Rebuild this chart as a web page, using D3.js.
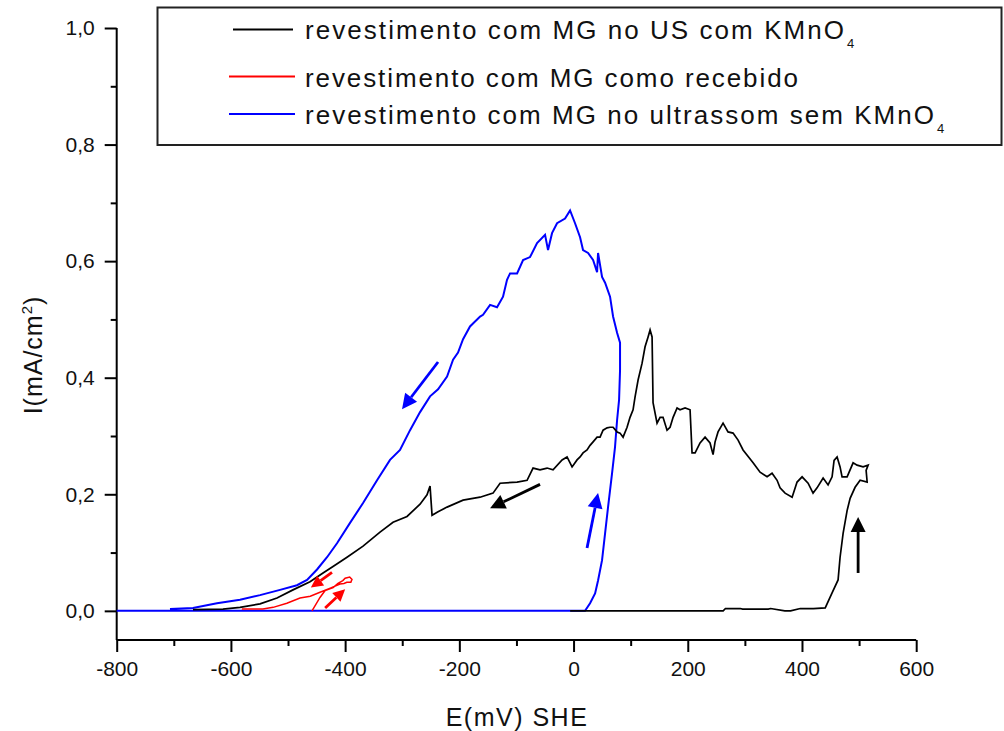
<!DOCTYPE html>
<html>
<head>
<meta charset="utf-8">
<script src="https://cdn.jsdelivr.net/npm/d3@7"></script>
<style>
  html, body { margin: 0; padding: 0; background: #fff; }
  svg { display: block; font-family: "Liberation Sans", Arial, sans-serif; }
</style>
</head>
<body>
<svg id="chart" width="1004" height="731"></svg>
<script>
// Polarization scans: potential E (mV vs SHE) and current density I (mA/cm²)

const xTicks = [-800, -600, -400, -200, 0, 200, 400, 600];
const xMinor = [-700, -500, -300, -100, 100, 300, 500];
const yTicks = [0, 0.2, 0.4, 0.6, 0.8, 1.0];
const yMinor = [0.1, 0.3, 0.5, 0.7, 0.9];
const fmtComma = d => d3.format(".1f")(d).replace(".", ",");
const fmtPlain = d => String(d);

// Coating sonicated without KMnO4 (forward then reverse)
const blueE = [-800, 20.1, 28.9, 37.7, 42.9, 49.9, 55.2, 60.4, 67.4, 72.6, 76.2, 79.7, 81.4, 81.4, 76.2, 69.2, 63.9, 55.2, 49.9, 42.9, 41.2, 34.2, 25.4, 16.6, 11.4, 2.6, -6.1,
  -14.9, -28.9, -37.7, -44.7, -49.9, -63.9, -76.2, -88.4, -98.9, -111.2, -116.5, -123.5, -134.0, -146.2, -158.5, -163.7, -181.3, -193.5, -202.3, -211.0, -221.5, -237.3, -251.3, -268.8, -286.3, -303.9, -321.4, -344.1, -368.6, -391.4, -414.2, -431.7, -449.2, -466.7, -484.3, -514.0, -549.0, -584.1, -624.4, -666.4, -706.7];
const blueI = [0, 0, 0.013, 0.030, 0.052, 0.087, 0.133, 0.178, 0.236, 0.281, 0.327, 0.362, 0.413, 0.460, 0.477, 0.505, 0.539, 0.563, 0.573, 0.614, 0.581, 0.602, 0.614, 0.619, 0.641, 0.665, 0.687,
  0.673, 0.665, 0.648, 0.619, 0.645, 0.631, 0.607, 0.602, 0.579, 0.579, 0.568, 0.539, 0.521, 0.525, 0.508, 0.505, 0.488, 0.466, 0.443, 0.431, 0.402, 0.380, 0.368, 0.341, 0.310, 0.276, 0.259, 0.224, 0.185, 0.151, 0.116, 0.092, 0.071, 0.053, 0.044, 0.036, 0.027, 0.019, 0.013, 0.005, 0.003];

// Coating sonicated with KMnO4 (forward then reverse)
const blackE = [-6, 262, 266, 292, 296, 341, 345, 370, 380, 397, 420, 440.7, 452.7, 463.2, 466.7, 472.0, 479.0, 484.3, 493.0, 501.8, 514.1, 512.3, 515.8,
  507.0, 496.5, 489.5, 479.0, 470.2, 466.7, 461.5, 456.2, 452.7, 445.7, 437.0, 426.4, 419.4, 410.7, 400.2, 391.4, 382.7, 370.4, 361.6, 356.4, 347.6, 338.9, 326.6, 314.4, 296.8, 288.1, 279.3, 270.5, 261.8, 253.0, 247.8, 244.3, 239.0, 230.3, 221.5, 212.8, 207.5, 204.0, 195.3, 186.5, 181.3, 174.3, 169.0, 163.7, 156.7, 151.5, 146.2, 139.2, 137.5, 134.0, 130.5, 125.2, 120.0, 113.0, 107.7, 104.2, 98.9, 93.7, 86.7, 81.4, 76.2, 69.2, 63.9, 58.7, 51.7, 46.4, 41.2, 34.2, 28.9, 23.6, 16.6, 11.4, 6.1, -2.6, -11.4, -20.1, -35.9, -46.4, -58.7, -70.9, -81.4, -98.9, -128.7, -141.0, -163.7, -193.5, -221.5, -237.3, -247.8, -251.3, -256.6, -268.8, -291.6, -316.1, -338.9, -368.6, -396.7, -421.2, -438.7, -461.5, -491.3, -519.3, -549.0, -584.1, -613.9, -666.4];
const blackI = [0, 0, 0.004, 0.004, 0.003, 0.003, 0.004, 0.0, 0.0, 0.004, 0.004, 0.005, 0.031, 0.053, 0.092, 0.133, 0.172, 0.193, 0.212, 0.224, 0.221, 0.241, 0.250,
  0.247, 0.250, 0.254, 0.230, 0.230, 0.247, 0.264, 0.258, 0.230, 0.216, 0.228, 0.211, 0.202, 0.219, 0.230, 0.221, 0.195, 0.202, 0.211, 0.224, 0.236, 0.230, 0.238, 0.254, 0.276, 0.293, 0.305, 0.307, 0.322, 0.307, 0.290, 0.268, 0.288, 0.298, 0.288, 0.271, 0.271, 0.345, 0.348, 0.345, 0.348, 0.332, 0.315, 0.310, 0.332, 0.332, 0.322, 0.357, 0.470, 0.482, 0.470, 0.453, 0.425, 0.396, 0.367, 0.345, 0.332, 0.315, 0.298, 0.305, 0.307, 0.315, 0.315, 0.314, 0.310, 0.298, 0.298, 0.290, 0.284, 0.276, 0.271, 0.264, 0.259, 0.247, 0.264, 0.259, 0.242, 0.245, 0.242, 0.245, 0.224, 0.221, 0.219, 0.202, 0.195, 0.190, 0.178, 0.170, 0.164, 0.214, 0.199, 0.183, 0.162, 0.152, 0.135, 0.111, 0.092, 0.076, 0.065, 0.050, 0.036, 0.022, 0.012, 0.006, 0.003, 0.002];

// Coating as received (forward then reverse)
const redE = [-458, -444, -435, -421, -412.5, -404, -400, -392, -388, -390, -397, -402, -409, -426, -444, -461, -479, -502, -526, -544, -581];
const redI = [0, 0.023, 0.035, 0.040, 0.047, 0.052, 0.056, 0.058, 0.054, 0.049, 0.049, 0.047, 0.046, 0.039, 0.032, 0.025, 0.022, 0.013, 0.006, 0.003, 0.003];

const seriesNames = [
  "revestimento com MG no US com KMnO",
  "revestimento com MG como recebido",
  "revestimento com MG no ultrassom sem KMnO"
];
const seriesColors = ["#000000", "#ff0000", "#0000ff"];

// Scan-direction arrows: tail (E, I) -> tip (E, I), colour index
const arrowsE0 = [-237.3, 23.6, -58.7, 498.3, -423, -435];
const arrowsI0 = [0.427, 0.108, 0.217, 0.065, 0.066, 0.005];
const arrowsE1 = [-300.4, 42.9, -146.2, 498.3, -460, -400];
const arrowsI1 = [0.346, 0.202, 0.176, 0.161, 0.040, 0.037];
const arrowsC = [2, 2, 0, 0, 1, 1];

const svg = d3.select("#chart");
const x = d3.scaleLinear().domain([-800, 600]).range([116.7, 916.2]);
const y = d3.scaleLinear().domain([-0.05, 1.0]).range([640, 28]);

// Axes (left and bottom only)
const xAxis = svg.append("g").attr("transform", `translate(0,${y(-0.05)})`)
  .call(d3.axisBottom(x).tickValues(xTicks).tickSize(12).tickPadding(9).tickFormat(fmtPlain));
const xAxisMinor = svg.append("g").attr("transform", `translate(0,${y(-0.05)})`)
  .call(d3.axisBottom(x).tickValues(xMinor).tickSize(6).tickFormat(""));
const yAxis = svg.append("g").attr("transform", `translate(${x(-800)},0)`)
  .call(d3.axisLeft(y).tickValues(yTicks).tickSize(12).tickPadding(10).tickFormat(fmtComma));
const yAxisMinor = svg.append("g").attr("transform", `translate(${x(-800)},0)`)
  .call(d3.axisLeft(y).tickValues(yMinor).tickSize(6).tickFormat(""));

[xAxis, xAxisMinor, yAxis, yAxisMinor].forEach(g => {
  g.select(".domain").attr("stroke", "#000").attr("stroke-width", 2);
  g.selectAll(".tick line").attr("stroke", "#000").attr("stroke-width", 2);
  g.selectAll(".tick text").attr("fill", "#111").attr("font-size", 21)
    .attr("font-family", "'Liberation Sans', Arial, sans-serif");
});
xAxis.select(".domain").attr("d", `M${x(-800)},0H${x(600)}`);
xAxisMinor.select(".domain").remove();
yAxis.select(".domain").attr("d", `M0,${y(1.0)}V${y(-0.05)}`);
yAxisMinor.select(".domain").remove();

// Axis titles
svg.append("text")
  .attr("x", 517).attr("y", 726)
  .attr("text-anchor", "middle")
  .attr("font-size", 25).attr("letter-spacing", 1.5).attr("fill", "#111")
  .text("E(mV) SHE");

const yl = svg.append("text")
  .attr("transform", "translate(42,355) rotate(-90)")
  .attr("text-anchor", "middle")
  .attr("font-size", 25).attr("letter-spacing", 1).attr("fill", "#111");
yl.append("tspan").text("I(mA/cm");
yl.append("tspan").attr("font-size", 15).attr("dy", -10).text("2");
yl.append("tspan").attr("dy", 10).text(")");

// Curves
const line = d3.line().x(d => x(d[0])).y(d => y(d[1]));
const curves = [
  { E: blueE, I: blueI, c: seriesColors[2], w: 2 },
  { E: blackE, I: blackI, c: seriesColors[0], w: 1.7 },
  { E: redE, I: redI, c: seriesColors[1], w: 1.5 }
];
curves.forEach(s => {
  svg.append("path")
    .datum(d3.zip(s.E, s.I))
    .attr("d", line)
    .attr("fill", "none")
    .attr("stroke", s.c)
    .attr("stroke-width", s.w)
    .attr("stroke-linejoin", "miter");
});

// Arrows
arrowsE0.forEach((e0, i) => {
  const x0 = x(e0), y0 = y(arrowsI0[i]);
  const x1 = x(arrowsE1[i]), y1 = y(arrowsI1[i]);
  const col = seriesColors[arrowsC[i]];
  const ang = Math.atan2(y1 - y0, x1 - x0);
  const hl = arrowsC[i] === 1 ? 12 : 15, hw = arrowsC[i] === 1 ? 6 : 7.5;
  const bx = x1 - hl * Math.cos(ang), by = y1 - hl * Math.sin(ang);
  svg.append("line")
    .attr("x1", x0).attr("y1", y0).attr("x2", bx).attr("y2", by)
    .attr("stroke", col).attr("stroke-width", 2.8);
  const px = -Math.sin(ang), py = Math.cos(ang);
  svg.append("path")
    .attr("d", `M${x1},${y1}L${bx + hw * px},${by + hw * py}L${bx - hw * px},${by - hw * py}Z`)
    .attr("fill", col);
});

// Legend
const legend = svg.append("g");
legend.append("rect")
  .attr("x", 157.5).attr("y", 7.5).attr("width", 844).attr("height", 137.5)
  .attr("fill", "none").attr("stroke", "#222").attr("stroke-width", 2);
const legLineY = [29.5, 76.5, 114];
const legTextY = [38.5, 86.5, 123.5];
const legTextLen = [539, 493, 629];
const legSubX = [847, null, 937];
const legX = [[233, 293], [229, 295], [229, 295]];
seriesNames.forEach((name, i) => {
  legend.append("line")
    .attr("x1", legX[i][0]).attr("x2", legX[i][1])
    .attr("y1", legLineY[i]).attr("y2", legLineY[i])
    .attr("stroke", seriesColors[i]).attr("stroke-width", 1.8);
  legend.append("text")
    .attr("x", 305).attr("y", legTextY[i])
    .attr("font-size", 26).attr("fill", "#111")
    .attr("textLength", legTextLen[i]).attr("lengthAdjust", "spacing")
    .text(name);
  if (legSubX[i] !== null) {
    legend.append("text")
      .attr("x", legSubX[i]).attr("y", legTextY[i] + 9)
      .attr("font-size", 13).attr("fill", "#111")
      .text("4");
  }
});
</script>
</body>
</html>
